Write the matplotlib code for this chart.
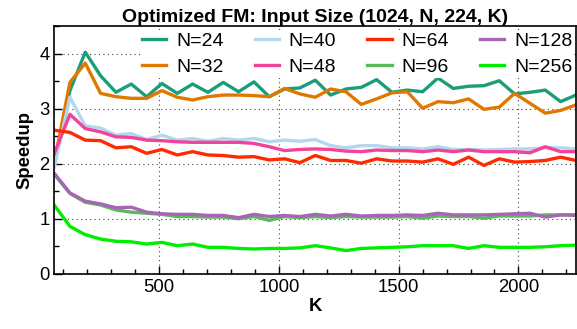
import matplotlib
matplotlib.use("Agg")
import matplotlib.pyplot as plt
from matplotlib.ticker import MultipleLocator

plt.rcParams['font.family'] = ['Liberation Sans', 'DejaVu Sans']

# K values: 64, 128, ..., 2240
k_values = [64 * i for i in range(1, 36)]

n24 = [2.00, 3.33, 4.03, 3.60, 3.30, 3.45, 3.22, 3.46, 3.28, 3.45, 3.30, 3.48,
       3.31, 3.49, 3.22, 3.36, 3.38, 3.52, 3.25, 3.36, 3.39, 3.53, 3.30, 3.34,
       3.31, 3.56, 3.37, 3.41, 3.42, 3.51, 3.27, 3.30, 3.34, 3.13, 3.25]
n32 = [2.05, 3.48, 3.83, 3.28, 3.22, 3.19, 3.19, 3.33, 3.21, 3.16, 3.22, 3.25,
       3.25, 3.24, 3.22, 3.37, 3.27, 3.21, 3.36, 3.31, 3.08, 3.18, 3.29, 3.31,
       3.01, 3.13, 3.11, 3.18, 2.99, 3.03, 3.28, 3.10, 2.92, 2.97, 3.07]
n40 = [1.95, 3.21, 2.69, 2.65, 2.52, 2.55, 2.44, 2.52, 2.43, 2.46, 2.41, 2.46,
       2.43, 2.46, 2.40, 2.43, 2.41, 2.44, 2.33, 2.29, 2.33, 2.33, 2.29, 2.29,
       2.27, 2.31, 2.26, 2.26, 2.25, 2.26, 2.27, 2.27, 2.29, 2.29, 2.27]
n48 = [2.20, 2.90, 2.64, 2.58, 2.49, 2.48, 2.43, 2.42, 2.40, 2.39, 2.39, 2.39,
       2.39, 2.37, 2.31, 2.24, 2.26, 2.27, 2.26, 2.23, 2.22, 2.25, 2.24, 2.24,
       2.22, 2.25, 2.22, 2.25, 2.22, 2.22, 2.22, 2.20, 2.31, 2.22, 2.22]
n64 = [2.61, 2.57, 2.43, 2.42, 2.29, 2.31, 2.19, 2.26, 2.16, 2.22, 2.16, 2.15,
       2.12, 2.13, 2.07, 2.09, 2.02, 2.15, 2.06, 2.06, 2.01, 2.09, 2.05, 2.05,
       2.03, 2.09, 1.99, 2.12, 1.97, 2.09, 2.03, 2.04, 2.06, 2.12, 2.06]
n96 = [1.80, 1.46, 1.30, 1.25, 1.16, 1.12, 1.10, 1.08, 1.04, 1.04, 1.03, 1.03,
       1.00, 1.04, 0.97, 1.04, 1.02, 1.04, 1.02, 1.04, 1.03, 1.03, 1.03, 1.04,
       1.01, 1.05, 1.04, 1.04, 1.01, 1.05, 1.05, 1.05, 1.07, 1.07, 1.06]
n128 = [1.82, 1.47, 1.32, 1.27, 1.20, 1.21, 1.12, 1.09, 1.08, 1.08, 1.06, 1.06,
        1.02, 1.08, 1.04, 1.06, 1.04, 1.08, 1.05, 1.08, 1.05, 1.06, 1.06, 1.07,
        1.06, 1.10, 1.07, 1.07, 1.07, 1.08, 1.09, 1.10, 1.03, 1.07, 1.07]
n256 = [1.24, 0.86, 0.71, 0.63, 0.59, 0.58, 0.54, 0.57, 0.51, 0.54, 0.48, 0.48,
        0.46, 0.45, 0.46, 0.46, 0.47, 0.51, 0.47, 0.42, 0.46, 0.47, 0.48, 0.49,
        0.51, 0.51, 0.51, 0.46, 0.51, 0.48, 0.48, 0.48, 0.49, 0.51, 0.52]

series = [
    ("N=24", n24, "#1a9e7a"),
    ("N=32", n32, "#e07800"),
    ("N=40", n40, "#b3d7ec"),
    ("N=48", n48, "#f0449a"),
    ("N=64", n64, "#ff2a00"),
    ("N=96", n96, "#5cb85c"),
    ("N=128", n128, "#a865b8"),
    ("N=256", n256, "#00ee00"),
]

fig = plt.figure(figsize=(5.77, 3.29), dpi=100)
ax = fig.add_axes([0.094, 0.168, 0.905, 0.752])

for label, vals, color in series:
    ax.plot(k_values, vals, color=color, lw=2.4, label=label)

ax.set_xlim(62.5, 2242)
ax.set_ylim(0, 4.5)
ax.xaxis.set_major_locator(MultipleLocator(500))
ax.xaxis.set_minor_locator(MultipleLocator(100))
ax.yaxis.set_major_locator(MultipleLocator(1))
ax.yaxis.set_minor_locator(MultipleLocator(0.5))
ax.tick_params(which='both', direction='in', labelsize=13.3, width=1.0)
ax.tick_params(which='major', length=6)
ax.tick_params(which='minor', length=3.5)
ax.grid(True, which='major', color='#444444', linestyle=(0, (1, 3)), lw=0.8)
ax.set_axisbelow(True)
for sp in ax.spines.values():
    sp.set_linewidth(1.2)

ax.set_xlabel("K", fontsize=13.3, fontweight='bold', labelpad=2)
ax.set_ylabel("Speedup", fontsize=13.3, fontweight='bold', labelpad=4)
ax.set_title("Optimized FM: Input Size (1024, N, 224, K)", fontsize=14,
             fontweight='bold', pad=3)

leg = ax.legend(loc='upper left', bbox_to_anchor=(0.157, 1.0), ncol=4,
                fontsize=14, frameon=True, fancybox=False, borderpad=0.1,
                borderaxespad=0.2, handlelength=1.25, handletextpad=0.5,
                columnspacing=1.6, labelspacing=0.45)
leg.get_frame().set_edgecolor('none')
leg.get_frame().set_facecolor('white')
leg.get_frame().set_alpha(1.0)

fig.savefig("out.png", dpi=100)
